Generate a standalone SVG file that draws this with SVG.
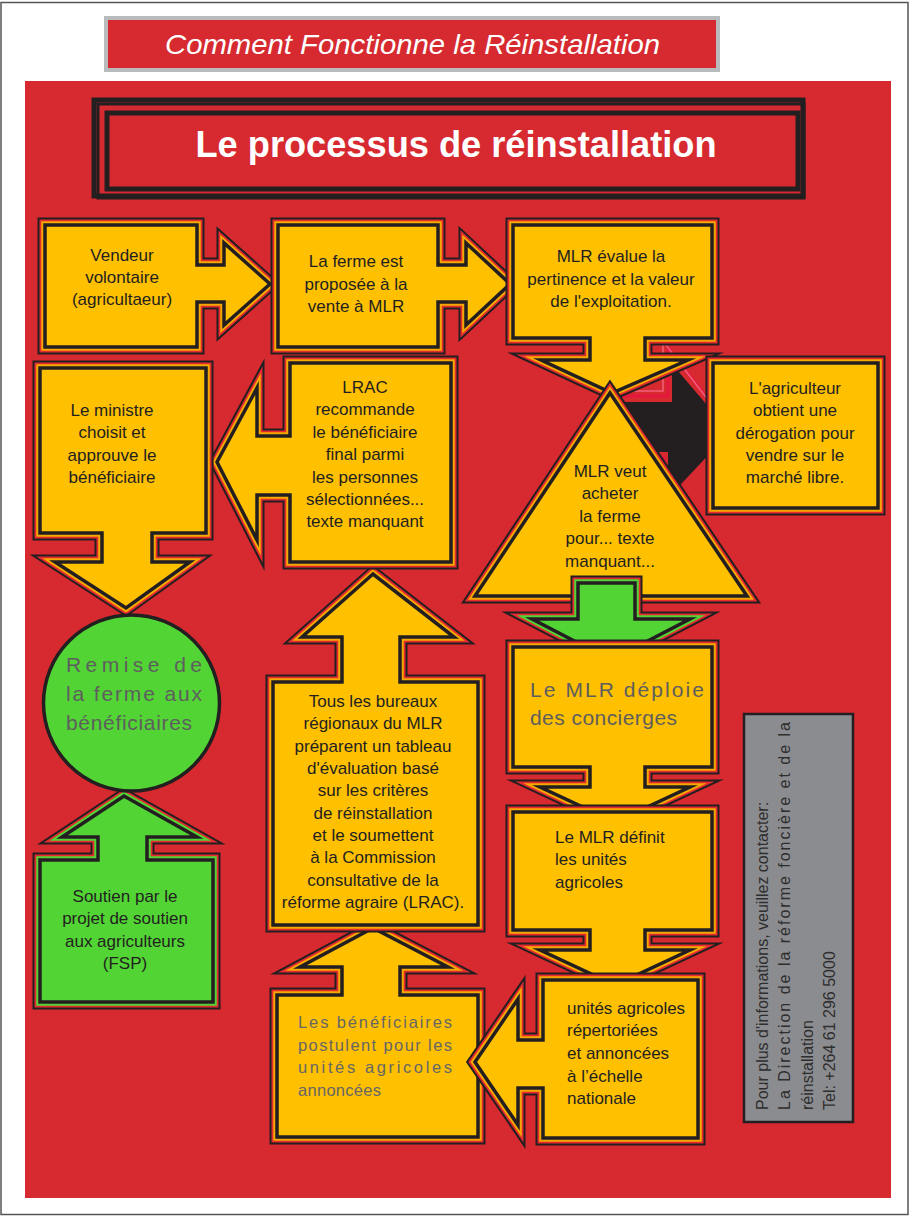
<svg xmlns="http://www.w3.org/2000/svg" xmlns:xlink="http://www.w3.org/1999/xlink" width="910" height="1216" viewBox="0 0 910 1216">
<style>
.b1{fill:none;stroke:#231F20;stroke-width:15;stroke-linejoin:miter;stroke-miterlimit:6}
.b2{fill:none;stroke:#E32B30;stroke-width:11;stroke-linejoin:miter;stroke-miterlimit:6}
.b3y{fill:none;stroke:#F5A800;stroke-width:7.5;stroke-linejoin:miter;stroke-miterlimit:6}
.fy{fill:#FFC000;stroke:#231F20;stroke-width:3.5;stroke-linejoin:miter;stroke-miterlimit:6}
.b3g{fill:none;stroke:#52D435;stroke-width:7.5;stroke-linejoin:miter;stroke-miterlimit:6}
.fg{fill:#52D435;stroke:#231F20;stroke-width:3.5;stroke-linejoin:miter;stroke-miterlimit:6}
.t{font-family:"Liberation Sans",Arial,sans-serif;font-size:17px;fill:#231F20;text-anchor:middle}
.tl{font-family:"Liberation Sans",Arial,sans-serif;font-size:17px;fill:#231F20;text-anchor:start}
.gr{font-family:"Liberation Sans",Arial,sans-serif;fill:#5E5E5E;text-anchor:start}
</style>
<defs>
<path id="p-vendeur" d="M45,225 H197 V265 H224 V243 L270,284 L224,325 V302 H197 V347 H45 Z"/>
<path id="p-ferme" d="M278,225 H438 V265 H466 V243 L510,284 L466,325 V302 H438 V347 H278 Z"/>
<path id="p-evalue" d="M513,225 H712 V338 H645 V360 H688 L612,393 L541,360 H590 V338 H513 Z"/>
<path id="p-agri" d="M713,363 H878 V508 H713 Z"/>
<path id="p-tri" d="M610,393 L747,596 H475 Z"/>
<path id="p-green" d="M578,583 H635 V619 H690 L611,660 L532,619 H578 Z"/>
<path id="p-deploie" d="M513,647 H712 V767 H645 V787 H690 L615,822 L540,787 H590 V767 H513 Z"/>
<path id="p-definit" d="M513,812 H712 V930 H645 V950 H690 L615,985 L540,950 H590 V930 H513 Z"/>
<path id="p-unites" d="M543,980 H698 V1138 H543 V1088 H518 V1125 L475,1062 L518,999 V1040 H543 Z"/>
<path id="p-benef" d="M277,995 H342 V967 H300 L373,928 L448,967 H400 V995 H478 V1137 H277 Z"/>
<path id="p-tous" d="M273,682 H342 V637 H302 L373,574 L454,637 H400 V682 H478 V925 H273 Z"/>
<path id="p-lrac" d="M290,363 H451 V562 H290 V495 H257 V540 L217,462 L257,388 V436 H290 Z"/>
<path id="p-ministre" d="M40,368 H206 V533 H152 V562 H190 L126,608 L55,562 H102 V533 H40 Z"/>
<path id="p-soutien" d="M40,860 H98 V837 H62 L124,796 L197,837 H147 V860 H213 V1002 H40 Z"/>
</defs>

<rect x="1" y="2.5" width="907" height="1212" fill="#FFFFFF" stroke="#555555" stroke-width="1.5"/>

<g id="banner">
<rect x="106" y="18" width="612" height="52" fill="#D62A30" stroke="#B9BABC" stroke-width="4"/>
<text x="165" y="54" textLength="495" lengthAdjust="spacingAndGlyphs" style="font-family:'Liberation Sans',Arial,sans-serif;font-size:28px;font-style:italic;fill:#FFFFFF">Comment Fonctionne la Réinstallation</text>
</g>

<rect id="panel" x="25" y="81" width="866" height="1117" fill="#D62A30"/>

<g id="title-box">
<rect x="94" y="100" width="709" height="96" fill="none" stroke="#231F20" stroke-width="5"/>
<rect x="98" y="104" width="706" height="94" fill="none" stroke="#231F20" stroke-width="3"/>
<rect x="107" y="113" width="691" height="76" fill="#D62A30" stroke="#231F20" stroke-width="5"/>
<text x="456" y="157" textLength="521" lengthAdjust="spacingAndGlyphs" style="font-family:'Liberation Sans',Arial,sans-serif;font-size:36px;font-weight:bold;fill:#FFFFFF;text-anchor:middle">Le processus de réinstallation</text>
</g>

<g id="connectors">
<g id="black-arrow">
<path d="M610,396 H668 V347 L728,426 L664,503 V458 H610 Z" fill="none" stroke="#E5173F" stroke-width="3"/>
<path d="M610,391 H663 V341 L724,421" fill="none" stroke="#F0607A" stroke-width="1.5"/>
<path d="M610,402 H672 V364 L730,432 L668,498 V452 H610 Z" fill="#231F20"/>
</g>
</g>

<g id="n-vendeur">
<use href="#p-vendeur" class="b1"/><use href="#p-vendeur" class="b2"/><use href="#p-vendeur" class="b3y"/><use href="#p-vendeur" class="fy"/>
<text class="t"><tspan x="122" y="261">Vendeur</tspan><tspan x="122" y="283">volontaire</tspan><tspan x="122" y="305">(agricultaeur)</tspan></text>
</g>

<g id="n-ferme">
<use href="#p-ferme" class="b1"/><use href="#p-ferme" class="b2"/><use href="#p-ferme" class="b3y"/><use href="#p-ferme" class="fy"/>
<text class="t"><tspan x="356" y="267">La ferme est</tspan><tspan x="356" y="290">proposée à la</tspan><tspan x="356" y="312">vente à MLR</tspan></text>
</g>

<g id="n-evalue">
<use href="#p-evalue" class="b1"/><use href="#p-evalue" class="b2"/><use href="#p-evalue" class="b3y"/><use href="#p-evalue" class="fy"/>
<text class="t"><tspan x="611" y="262">MLR évalue la</tspan><tspan x="611" y="285">pertinence et la valeur</tspan><tspan x="611" y="307">de l'exploitation.</tspan></text>
</g>

<g id="n-agriculteur">
<use href="#p-agri" class="b1"/><use href="#p-agri" class="b2"/><use href="#p-agri" class="b3y"/><use href="#p-agri" class="fy"/>
<text class="t"><tspan x="795" y="394">L'agriculteur</tspan><tspan x="795" y="416">obtient une</tspan><tspan x="795" y="439">dérogation pour</tspan><tspan x="795" y="461">vendre sur le</tspan><tspan x="795" y="483">marché libre.</tspan></text>
</g>

<g id="n-acheter">
<use href="#p-tri" class="b1"/><use href="#p-tri" class="b2"/><use href="#p-tri" class="b3y"/><use href="#p-tri" class="fy"/>
<text class="t"><tspan x="610" y="477">MLR veut</tspan><tspan x="610" y="499">acheter</tspan><tspan x="610" y="522">la ferme</tspan><tspan x="610" y="544">pour... texte</tspan><tspan x="610" y="567">manquant...</tspan></text>
</g>

<g id="green-arrow">
<use href="#p-green" class="b1"/><use href="#p-green" class="b2"/><use href="#p-green" class="b3g"/><use href="#p-green" class="fg"/>
</g>

<g id="n-deploie">
<use href="#p-deploie" class="b1"/><use href="#p-deploie" class="b2"/><use href="#p-deploie" class="b3y"/><use href="#p-deploie" class="fy"/>
<text class="gr" style="font-size:21px"><tspan x="530" y="697" textLength="174" lengthAdjust="spacing">Le MLR déploie</tspan><tspan x="530" y="725" textLength="147" lengthAdjust="spacing">des concierges</tspan></text>
</g>

<g id="n-definit">
<use href="#p-definit" class="b1"/><use href="#p-definit" class="b2"/><use href="#p-definit" class="b3y"/><use href="#p-definit" class="fy"/>
<text class="tl"><tspan x="555" y="843">Le MLR définit</tspan><tspan x="555" y="865">les unités</tspan><tspan x="555" y="888">agricoles</tspan></text>
</g>

<g id="n-benef">
<use href="#p-benef" class="b1"/><use href="#p-benef" class="b2"/><use href="#p-benef" class="b3y"/><use href="#p-benef" class="fy"/>
<text class="gr" style="font-size:16.5px;fill:#666666"><tspan x="298" y="1028" textLength="154" lengthAdjust="spacing">Les bénéficiaires</tspan><tspan x="298" y="1051" textLength="154" lengthAdjust="spacing">postulent pour les</tspan><tspan x="298" y="1073" textLength="154" lengthAdjust="spacing">unités agricoles</tspan><tspan x="298" y="1096" textLength="83" lengthAdjust="spacing">annoncées</tspan></text>
</g>

<g id="n-unites">
<use href="#p-unites" class="b1"/><use href="#p-unites" class="b2"/><use href="#p-unites" class="b3y"/><use href="#p-unites" class="fy"/>
<text class="tl"><tspan x="567" y="1014">unités agricoles</tspan><tspan x="567" y="1036">répertoriées</tspan><tspan x="567" y="1059">et annoncées</tspan><tspan x="567" y="1082">à l’échelle</tspan><tspan x="567" y="1104">nationale</tspan></text>
</g>

<g id="n-tous">
<use href="#p-tous" class="b1"/><use href="#p-tous" class="b2"/><use href="#p-tous" class="b3y"/><use href="#p-tous" class="fy"/>
<text class="t"><tspan x="373" y="707">Tous les bureaux</tspan><tspan x="373" y="729">régionaux du MLR</tspan><tspan x="373" y="752">préparent un tableau</tspan><tspan x="373" y="774">d'évaluation basé</tspan><tspan x="373" y="796">sur les critères</tspan><tspan x="373" y="819">de réinstallation</tspan><tspan x="373" y="841">et le soumettent</tspan><tspan x="373" y="863">à la Commission</tspan><tspan x="373" y="886">consultative de la</tspan><tspan x="373" y="908">réforme agraire (LRAC).</tspan></text>
</g>

<g id="n-lrac">
<use href="#p-lrac" class="b1"/><use href="#p-lrac" class="b2"/><use href="#p-lrac" class="b3y"/><use href="#p-lrac" class="fy"/>
<text class="t"><tspan x="365" y="393">LRAC</tspan><tspan x="365" y="415">recommande</tspan><tspan x="365" y="438">le bénéficiaire</tspan><tspan x="365" y="460">final parmi</tspan><tspan x="365" y="483">les personnes</tspan><tspan x="365" y="505">sélectionnées...</tspan><tspan x="365" y="527">texte manquant</tspan></text>
</g>

<g id="n-ministre">
<use href="#p-ministre" class="b1"/><use href="#p-ministre" class="b2"/><use href="#p-ministre" class="b3y"/><use href="#p-ministre" class="fy"/>
<text class="t"><tspan x="112" y="416">Le ministre</tspan><tspan x="112" y="438">choisit et</tspan><tspan x="112" y="461">approuve le</tspan><tspan x="112" y="483">bénéficiaire</tspan></text>
</g>

<g id="n-soutien">
<use href="#p-soutien" class="b1"/><use href="#p-soutien" class="b2"/><use href="#p-soutien" class="b3g"/><use href="#p-soutien" class="fg"/>
<text class="t"><tspan x="125" y="902">Soutien par le</tspan><tspan x="125" y="924">projet de soutien</tspan><tspan x="125" y="947">aux agriculteurs</tspan><tspan x="125" y="969">(FSP)</tspan></text>
</g>

<g id="n-remise">
<circle cx="131.5" cy="703" r="88" fill="#52D435" stroke="#231F20" stroke-width="3.5"/>
<text class="gr" style="font-size:21px"><tspan x="66" y="672" textLength="136" lengthAdjust="spacing">Remise de</tspan><tspan x="66" y="701" textLength="136" lengthAdjust="spacing">la ferme aux</tspan><tspan x="66" y="730" textLength="126" lengthAdjust="spacing">bénéficiaires</tspan></text>
</g>

<g id="n-contact">
<rect x="744" y="714" width="109" height="408" fill="#8B8C90" stroke="#231F20" stroke-width="2.5"/>
<g transform="rotate(-90)" style="font-family:'Liberation Sans',Arial,sans-serif;font-size:16px;fill:#2E2E2E">
<text x="-1110" y="768">Pour plus d'informations, veuillez contacter:</text>
<text x="-1110" y="790" textLength="388" lengthAdjust="spacing">La Direction de la réforme foncière et de la</text>
<text x="-1110" y="813">réinstallation</text>
<text x="-1110" y="835">Tel:  +264 61 296 5000</text>
</g>
</g>
</svg>
